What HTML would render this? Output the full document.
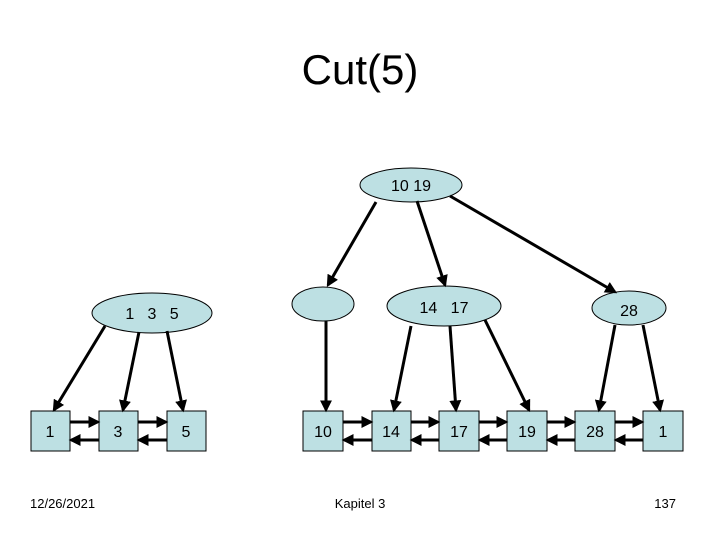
<!DOCTYPE html>
<html><head><style>
body{margin:0;background:#fff;}
svg{display:block;font-family:"Liberation Sans",Arial,sans-serif;}
</style></head><body>
<svg width="720" height="540" viewBox="0 0 720 540" xmlns="http://www.w3.org/2000/svg">
<defs>
<marker id="a" markerWidth="4" markerHeight="4" refX="3.2" refY="2" orient="auto" markerUnits="strokeWidth">
<path d="M0,0 L4,2 L0,4 z" fill="#000"/></marker>
</defs>
<text x="360" y="84" font-size="42" text-anchor="middle">Cut(5)</text>
<g fill="#bde0e3" stroke="#000" stroke-width="1">
<ellipse cx="411" cy="185" rx="51" ry="17"/>
<ellipse cx="152" cy="313" rx="60" ry="20"/>
<ellipse cx="323" cy="304" rx="31" ry="17"/>
<ellipse cx="444" cy="306" rx="57" ry="20"/>
<ellipse cx="629" cy="308" rx="37" ry="17"/>
<rect x="31" y="411" width="39" height="40"/>
<rect x="99" y="411" width="39" height="40"/>
<rect x="167" y="411" width="39" height="40"/>
<rect x="303" y="411" width="40" height="40"/>
<rect x="372" y="411" width="39" height="40"/>
<rect x="439" y="411" width="40" height="40"/>
<rect x="507" y="411" width="40" height="40"/>
<rect x="575" y="411" width="40" height="40"/>
<rect x="643" y="411" width="40" height="40"/>
</g>
<g stroke="#000" stroke-width="3" marker-end="url(#a)">
<line x1="376" y1="202" x2="328" y2="285"/>
<line x1="417" y1="201" x2="445" y2="285"/>
<line x1="450" y1="196" x2="615" y2="292"/>
<line x1="105" y1="326" x2="54" y2="410"/>
<line x1="139" y1="332" x2="123" y2="410"/>
<line x1="167" y1="331" x2="183" y2="410"/>
<line x1="326" y1="321" x2="326" y2="410"/>
<line x1="411" y1="326" x2="394" y2="410"/>
<line x1="450" y1="326" x2="456" y2="410"/>
<line x1="485" y1="320" x2="529" y2="410"/>
<line x1="615" y1="325" x2="599" y2="410"/>
<line x1="643" y1="325" x2="660" y2="410"/>
</g>
<g stroke="#000" stroke-width="3" marker-end="url(#a)">
<line x1="70" y1="422" x2="98" y2="422"/><line x1="99" y1="440" x2="71" y2="440"/>
<line x1="138" y1="422" x2="166" y2="422"/><line x1="167" y1="440" x2="139" y2="440"/>
<line x1="343" y1="422" x2="371" y2="422"/><line x1="372" y1="440" x2="344" y2="440"/>
<line x1="411" y1="422" x2="438" y2="422"/><line x1="439" y1="440" x2="412" y2="440"/>
<line x1="479" y1="422" x2="506" y2="422"/><line x1="507" y1="440" x2="480" y2="440"/>
<line x1="547" y1="422" x2="574" y2="422"/><line x1="575" y1="440" x2="548" y2="440"/>
<line x1="615" y1="422" x2="642" y2="422"/><line x1="643" y1="440" x2="616" y2="440"/>
</g>
<g font-size="16" text-anchor="middle">
<text x="411" y="191">10  19</text>
<text x="152" y="319" xml:space="preserve">1   3   5</text>
<text x="444" y="313" xml:space="preserve">14   17</text>
<text x="629" y="316">28</text>
<text x="50" y="437">1</text>
<text x="118" y="437">3</text>
<text x="186" y="437">5</text>
<text x="323" y="437">10</text>
<text x="391" y="437">14</text>
<text x="459" y="437">17</text>
<text x="527" y="437">19</text>
<text x="595" y="437">28</text>
<text x="663" y="437">1</text>
</g>
<g font-size="13">
<text x="30" y="508">12/26/2021</text>
<text x="360" y="508" text-anchor="middle">Kapitel 3</text>
<text x="676" y="508" text-anchor="end">137</text>
</g>
</svg>
</body></html>
